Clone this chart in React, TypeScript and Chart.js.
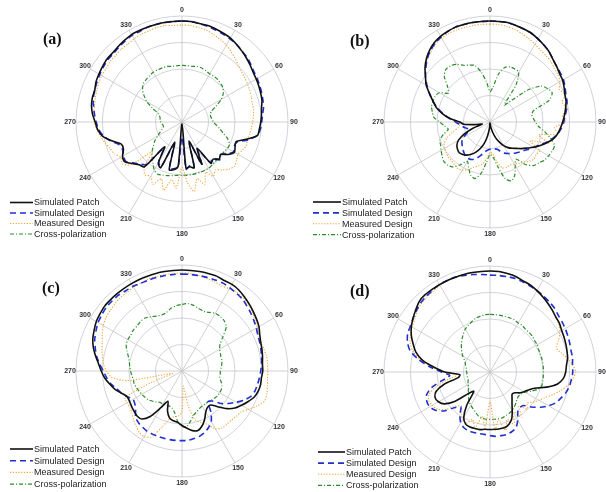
import { useEffect, useRef } from "react";
import { Chart, registerables } from "chart.js";

Chart.register(...registerables);

// Angles (degrees, clockwise from top), every 5 degrees
const ANGLES = [
  0, 5, 10, 15, 20, 25, 30, 35, 40, 45, 50, 55, 60, 65, 70, 75, 80, 85,
  90, 95, 100, 105, 110, 115, 120, 125, 130, 135, 140, 145, 150, 155, 160, 165, 170, 175,
  180, 185, 190, 195, 200, 205, 210, 215, 220, 225, 230, 235, 240, 245, 250, 255, 260, 265,
  270, 275, 280, 285, 290, 295, 300, 305, 310, 315, 320, 325, 330, 335, 340, 345, 350, 355,
];

const SERIES_NAMES = ["Simulated Patch", "Simulated Design", "Measured Design", "Cross-polarization"];

// Normalized radiation pattern values (relative radius)
// ---------- (a) ----------
const PATCH_A = [
  1.00, 1.00, 0.99, 0.99, 0.98, 0.97, 0.96, 0.94, 0.92, 0.90, 0.88, 0.86, 0.85, 0.84, 0.83, 0.82, 0.80, 0.79,
  0.78, 0.77, 0.76, 0.66, 0.57, 0.58, 0.60, 0.56, 0.50, 0.52, 0.48, 0.50, 0.30, 0.46, 0.20, 0.47, 0.45, 0.46,
  0.02, 0.44, 0.48, 0.49, 0.21, 0.50, 0.47, 0.30, 0.58, 0.60, 0.64, 0.69, 0.68, 0.64, 0.64, 0.72, 0.80, 0.84,
  0.86, 0.89, 0.91, 0.92, 0.92, 0.94, 0.95, 0.96, 0.97, 0.97, 0.98, 0.99, 1.00, 1.00, 1.00, 1.00, 1.00, 1.00,
];
const DESIGN_A = [
  1.00, 1.00, 0.99, 0.98, 0.97, 0.96, 0.95, 0.94, 0.92, 0.91, 0.89, 0.87, 0.86, 0.85, 0.84, 0.83, 0.82, 0.80,
  0.79, 0.78, 0.76, 0.68, 0.58, 0.57, 0.59, 0.55, 0.50, 0.53, 0.47, 0.49, 0.32, 0.47, 0.22, 0.46, 0.44, 0.47,
  0.15, 0.45, 0.47, 0.48, 0.24, 0.49, 0.46, 0.32, 0.55, 0.59, 0.63, 0.68, 0.67, 0.65, 0.66, 0.73, 0.79, 0.83,
  0.85, 0.87, 0.89, 0.91, 0.92, 0.93, 0.94, 0.95, 0.96, 0.96, 0.97, 0.98, 0.99, 0.99, 1.00, 1.00, 1.00, 1.00,
];
const MEASURED_A = [
  0.96, 0.96, 0.95, 0.94, 0.92, 0.90, 0.88, 0.85, 0.82, 0.79, 0.77, 0.76, 0.75, 0.74, 0.73, 0.72, 0.72, 0.71,
  0.70, 0.69, 0.68, 0.67, 0.68, 0.66, 0.64, 0.66, 0.68, 0.66, 0.62, 0.58, 0.62, 0.55, 0.66, 0.58, 0.70, 0.60,
  0.45, 0.66, 0.58, 0.70, 0.60, 0.68, 0.62, 0.64, 0.58, 0.42, 0.66, 0.72, 0.70, 0.74, 0.76, 0.79, 0.82, 0.85,
  0.87, 0.88, 0.88, 0.89, 0.90, 0.91, 0.92, 0.92, 0.93, 0.93, 0.94, 0.94, 0.95, 0.96, 0.96, 0.97, 0.97, 0.96,
];
const CROSS_A = [
  0.56, 0.56, 0.56, 0.57, 0.57, 0.56, 0.55, 0.55, 0.55, 0.54, 0.53, 0.50, 0.45, 0.37, 0.31, 0.29, 0.29, 0.30,
  0.31, 0.34, 0.38, 0.42, 0.48, 0.52, 0.52, 0.51, 0.51, 0.51, 0.51, 0.52, 0.53, 0.53, 0.53, 0.53, 0.53, 0.53,
  0.53, 0.53, 0.54, 0.55, 0.56, 0.57, 0.55, 0.50, 0.46, 0.42, 0.37, 0.33, 0.28, 0.24, 0.21, 0.19, 0.19, 0.20,
  0.21, 0.22, 0.22, 0.23, 0.25, 0.32, 0.40, 0.46, 0.51, 0.54, 0.55, 0.56, 0.57, 0.57, 0.57, 0.57, 0.56, 0.56,
];

// ---------- (b) ----------
const PATCH_B = [
  1.00, 1.00, 1.00, 0.99, 0.98, 0.97, 0.95, 0.93, 0.91, 0.88, 0.86, 0.84, 0.83, 0.81, 0.79, 0.78, 0.76, 0.74,
  0.72, 0.70, 0.68, 0.65, 0.60, 0.55, 0.50, 0.45, 0.41, 0.37, 0.34, 0.31, 0.27, 0.22, 0.17, 0.11, 0.06, 0.02,
  0.01, 0.06, 0.14, 0.22, 0.28, 0.33, 0.37, 0.40, 0.42, 0.43, 0.42, 0.40, 0.36, 0.28, 0.18, 0.08, 0.15, 0.26,
  0.30, 0.40, 0.48, 0.55, 0.60, 0.66, 0.73, 0.78, 0.84, 0.89, 0.93, 0.96, 0.98, 0.99, 1.00, 1.00, 1.00, 1.00,
];
const DESIGN_B = [
  1.00, 1.00, 1.00, 0.99, 0.98, 0.97, 0.95, 0.93, 0.91, 0.88, 0.86, 0.85, 0.84, 0.82, 0.80, 0.79, 0.77, 0.75,
  0.73, 0.71, 0.68, 0.64, 0.59, 0.54, 0.50, 0.47, 0.44, 0.42, 0.40, 0.38, 0.36, 0.34, 0.31, 0.28, 0.27, 0.27,
  0.27, 0.28, 0.30, 0.34, 0.38, 0.41, 0.42, 0.42, 0.40, 0.38, 0.36, 0.34, 0.30, 0.25, 0.22, 0.24, 0.27, 0.30,
  0.34, 0.40, 0.47, 0.54, 0.60, 0.66, 0.72, 0.78, 0.83, 0.88, 0.92, 0.95, 0.97, 0.99, 1.00, 1.00, 1.00, 1.00,
];
const MEASURED_B = [
  0.97, 0.97, 0.96, 0.95, 0.93, 0.91, 0.89, 0.87, 0.86, 0.85, 0.83, 0.82, 0.80, 0.76, 0.79, 0.74, 0.78, 0.72,
  0.75, 0.64, 0.68, 0.50, 0.62, 0.44, 0.57, 0.56, 0.57, 0.55, 0.52, 0.50, 0.48, 0.47, 0.48, 0.47, 0.40, 0.32,
  0.30, 0.36, 0.42, 0.45, 0.48, 0.52, 0.55, 0.56, 0.55, 0.54, 0.54, 0.53, 0.52, 0.50, 0.45, 0.38, 0.32, 0.30,
  0.32, 0.40, 0.47, 0.54, 0.60, 0.66, 0.72, 0.78, 0.83, 0.88, 0.91, 0.94, 0.96, 0.97, 0.97, 0.97, 0.97, 0.97,
];
const CROSS_B = [
  0.30, 0.35, 0.48, 0.56, 0.58, 0.58, 0.57, 0.45, 0.22, 0.30, 0.50, 0.62, 0.66, 0.68, 0.62, 0.45, 0.42, 0.43,
  0.45, 0.48, 0.55, 0.62, 0.68, 0.68, 0.67, 0.66, 0.63, 0.61, 0.55, 0.45, 0.50, 0.58, 0.62, 0.58, 0.45, 0.35,
  0.32, 0.40, 0.52, 0.58, 0.56, 0.50, 0.45, 0.52, 0.58, 0.60, 0.60, 0.58, 0.56, 0.54, 0.53, 0.48, 0.42, 0.45,
  0.50, 0.56, 0.58, 0.60, 0.60, 0.60, 0.58, 0.50, 0.55, 0.64, 0.68, 0.68, 0.66, 0.62, 0.60, 0.58, 0.50, 0.40,
];

// ---------- (c) ----------
const PATCH_C = [
  1.00, 1.00, 1.00, 1.00, 1.00, 0.99, 0.99, 0.98, 0.96, 0.94, 0.92, 0.90, 0.88, 0.85, 0.83, 0.82, 0.81, 0.80,
  0.80, 0.79, 0.79, 0.78, 0.76, 0.72, 0.68, 0.64, 0.58, 0.50, 0.44, 0.44, 0.47, 0.53, 0.58, 0.61, 0.60, 0.57,
  0.54, 0.51, 0.50, 0.48, 0.42, 0.33, 0.42, 0.55, 0.62, 0.63, 0.62, 0.61, 0.60, 0.60, 0.64, 0.69, 0.73, 0.77,
  0.80, 0.83, 0.87, 0.91, 0.94, 0.96, 0.98, 0.99, 1.00, 1.00, 1.00, 1.00, 1.00, 1.00, 1.00, 1.00, 1.00, 1.00,
];
const DESIGN_C = [
  0.96, 0.96, 0.96, 0.96, 0.96, 0.96, 0.95, 0.94, 0.93, 0.91, 0.89, 0.87, 0.85, 0.83, 0.82, 0.81, 0.80, 0.79,
  0.78, 0.77, 0.76, 0.75, 0.73, 0.68, 0.62, 0.56, 0.50, 0.42, 0.40, 0.50, 0.58, 0.62, 0.65, 0.67, 0.68, 0.69,
  0.69, 0.69, 0.69, 0.69, 0.69, 0.69, 0.69, 0.68, 0.67, 0.65, 0.60, 0.57, 0.56, 0.60, 0.64, 0.67, 0.72, 0.75,
  0.78, 0.82, 0.86, 0.89, 0.92, 0.94, 0.96, 0.97, 0.98, 0.98, 0.98, 0.97, 0.97, 0.96, 0.96, 0.96, 0.96, 0.96,
];
const MEASURED_C = [
  0.97, 0.97, 0.96, 0.95, 0.94, 0.93, 0.94, 0.95, 0.94, 0.93, 0.91, 0.88, 0.86, 0.84, 0.83, 0.84, 0.85, 0.85,
  0.85, 0.85, 0.86, 0.87, 0.87, 0.82, 0.76, 0.71, 0.70, 0.69, 0.69, 0.69, 0.66, 0.58, 0.54, 0.50, 0.35, 0.15,
  0.40, 0.45, 0.46, 0.50, 0.60, 0.72, 0.75, 0.74, 0.71, 0.68, 0.65, 0.63, 0.63, 0.62, 0.30, 0.10, 0.55, 0.70,
  0.75, 0.78, 0.80, 0.82, 0.84, 0.87, 0.90, 0.92, 0.93, 0.94, 0.95, 0.95, 0.96, 0.96, 0.97, 0.97, 0.97, 0.97,
];
const CROSS_C = [
  0.66, 0.67, 0.66, 0.64, 0.63, 0.64, 0.66, 0.66, 0.65, 0.62, 0.53, 0.46, 0.43, 0.42, 0.41, 0.41, 0.40, 0.39,
  0.38, 0.38, 0.38, 0.40, 0.42, 0.43, 0.43, 0.43, 0.42, 0.41, 0.40, 0.40, 0.40, 0.41, 0.43, 0.45, 0.50, 0.55,
  0.55, 0.50, 0.42, 0.38, 0.37, 0.37, 0.38, 0.38, 0.40, 0.42, 0.44, 0.45, 0.46, 0.47, 0.48, 0.49, 0.49, 0.50,
  0.51, 0.52, 0.53, 0.55, 0.58, 0.61, 0.62, 0.62, 0.63, 0.63, 0.64, 0.64, 0.62, 0.60, 0.59, 0.60, 0.63, 0.65,
];

// ---------- (d) ----------
const PATCH_D = [
  1.00, 1.00, 0.99, 0.98, 0.96, 0.95, 0.93, 0.91, 0.89, 0.87, 0.85, 0.84, 0.82, 0.81, 0.80, 0.79, 0.78, 0.76,
  0.75, 0.73, 0.68, 0.58, 0.47, 0.42, 0.39, 0.36, 0.32, 0.31, 0.34, 0.38, 0.44, 0.51, 0.55, 0.57, 0.57, 0.57,
  0.57, 0.57, 0.58, 0.58, 0.58, 0.57, 0.52, 0.40, 0.25, 0.30, 0.45, 0.55, 0.59, 0.60, 0.57, 0.47, 0.32, 0.30,
  0.45, 0.56, 0.68, 0.76, 0.81, 0.86, 0.90, 0.93, 0.96, 0.99, 1.00, 1.00, 1.00, 1.00, 1.00, 1.00, 1.00, 1.00,
];
const DESIGN_D = [
  0.96, 0.96, 0.96, 0.96, 0.95, 0.94, 0.93, 0.92, 0.91, 0.90, 0.88, 0.87, 0.86, 0.85, 0.84, 0.83, 0.83, 0.82,
  0.82, 0.81, 0.80, 0.78, 0.75, 0.72, 0.67, 0.61, 0.54, 0.47, 0.46, 0.48, 0.55, 0.61, 0.63, 0.64, 0.64, 0.64,
  0.63, 0.62, 0.62, 0.62, 0.62, 0.61, 0.58, 0.52, 0.45, 0.50, 0.60, 0.66, 0.69, 0.69, 0.67, 0.60, 0.48, 0.40,
  0.48, 0.60, 0.72, 0.82, 0.87, 0.90, 0.91, 0.93, 0.95, 0.97, 0.98, 0.99, 1.00, 1.00, 1.00, 0.99, 0.98, 0.97,
];
const MEASURED_D = [
  1.00, 1.00, 0.99, 0.98, 0.96, 0.95, 0.93, 0.91, 0.89, 0.87, 0.85, 0.83, 0.80, 0.75, 0.70, 0.73, 0.78, 0.82,
  0.85, 0.82, 0.78, 0.72, 0.66, 0.60, 0.56, 0.52, 0.48, 0.52, 0.44, 0.55, 0.45, 0.58, 0.50, 0.60, 0.48, 0.58,
  0.30, 0.56, 0.45, 0.58, 0.50, 0.56, 0.54, 0.50, 0.44, 0.48, 0.58, 0.64, 0.66, 0.67, 0.64, 0.55, 0.42, 0.33,
  0.45, 0.58, 0.70, 0.79, 0.84, 0.87, 0.89, 0.91, 0.94, 0.96, 0.97, 0.98, 0.99, 1.00, 1.00, 1.00, 1.00, 1.00,
];
const CROSS_D = [
  0.57, 0.57, 0.57, 0.57, 0.57, 0.57, 0.56, 0.56, 0.55, 0.55, 0.55, 0.54, 0.54, 0.53, 0.53, 0.53, 0.53, 0.53,
  0.53, 0.53, 0.53, 0.53, 0.50, 0.45, 0.40, 0.38, 0.37, 0.38, 0.40, 0.42, 0.44, 0.45, 0.46, 0.47, 0.47, 0.47,
  0.47, 0.47, 0.46, 0.45, 0.42, 0.40, 0.38, 0.36, 0.33, 0.30, 0.28, 0.26, 0.25, 0.24, 0.23, 0.23, 0.23, 0.23,
  0.23, 0.24, 0.24, 0.25, 0.26, 0.28, 0.31, 0.34, 0.37, 0.40, 0.43, 0.46, 0.49, 0.51, 0.53, 0.55, 0.56, 0.57,
];

// Radial grid rings (outer ring slightly beyond the main-lobe maximum)
const RING_VALUES = [0, 0.2625, 0.525, 0.7875, 1.05];
const R_MAX = 1.05;

const LINE_STYLES = [
  { color: "#111111", width: 1.6, dash: [] as number[] },
  { color: "#1f2fd0", width: 1.6, dash: [6, 4] },
  { color: "#f2a33a", width: 1.1, dash: [1.2, 1.6] },
  { color: "#2a8c2a", width: 1.2, dash: [4, 2, 1, 2] },
];

const PANELS = [
  {
    letter: "(a)", left: 0, top: 0, series: [PATCH_A, DESIGN_A, MEASURED_A, CROSS_A],
    padding: { left: 76, top: 16, right: 15, bottom: 18 },
    letterX: 43, letterY: 40, legendX: 10, legendY: 202.5, legendLen: 23, legendGap: 10.5,
  },
  {
    letter: "(b)", left: 303, top: 0, series: [PATCH_B, DESIGN_B, MEASURED_B, CROSS_B],
    padding: { left: 81, top: 16, right: 10, bottom: 18 },
    letterX: 47, letterY: 42, legendX: 10, legendY: 202, legendLen: 28, legendGap: 10.9,
  },
  {
    letter: "(c)", left: 0, top: 246, series: [PATCH_C, DESIGN_C, MEASURED_C, CROSS_C],
    padding: { left: 76, top: 19, right: 15, bottom: 15 },
    letterX: 42, letterY: 42.5, legendX: 10, legendY: 203, legendLen: 23, legendGap: 11.7,
  },
  {
    letter: "(d)", left: 303, top: 246, series: [PATCH_D, DESIGN_D, MEASURED_D, CROSS_D],
    padding: { left: 81, top: 20, right: 10, bottom: 14 },
    letterX: 47, letterY: 46, legendX: 15, legendY: 206, legendLen: 27, legendGap: 11.1,
  },
];

const decorPlugin = {
  id: "panelDecor",
  afterDraw(chart: any, _args: any, opts: any) {
    const ctx = chart.ctx as CanvasRenderingContext2D;
    const r = chart.scales.r;
    ctx.save();
    // angle labels
    ctx.font = 'bold 7px "Liberation Sans", Arial, sans-serif';
    ctx.fillStyle = "#333";
    ctx.textAlign = "center";
    ctx.textBaseline = "middle";
    (chart.data.labels as string[]).forEach((lab, i) => {
      if (Number(lab) % 30 !== 0) return;
      const p = r.getPointPosition(i, r.drawingArea + 6);
      ctx.fillText(String(lab), p.x, p.y);
    });
    // panel letter
    ctx.font = 'bold 16px "Liberation Serif", "Times New Roman", serif';
    ctx.fillStyle = "#111";
    ctx.textAlign = "left";
    ctx.fillText(opts.letter, opts.letterX, opts.letterY);
    // legend
    ctx.font = '9px "Liberation Sans", Arial, sans-serif';
    chart.data.datasets.forEach((ds: any, i: number) => {
      const y = opts.legendY + i * opts.legendGap;
      ctx.beginPath();
      ctx.setLineDash(ds.borderDash || []);
      ctx.strokeStyle = ds.borderColor;
      ctx.lineWidth = ds.borderWidth;
      ctx.moveTo(opts.legendX, y);
      ctx.lineTo(opts.legendX + opts.legendLen, y);
      ctx.stroke();
      ctx.setLineDash([]);
      ctx.fillStyle = "#222";
      ctx.fillText(ds.label, opts.legendX + opts.legendLen + 1, y + 0.5);
    });
    ctx.restore();
  },
};

function PolarPanel({ panel }: { panel: (typeof PANELS)[number] }) {
  const ref = useRef<HTMLCanvasElement | null>(null);
  useEffect(() => {
    if (!ref.current) return;
    const chart = new Chart(ref.current, {
      type: "radar",
      data: {
        labels: ANGLES.map(String),
        datasets: panel.series.map((values, i) => ({
          label: SERIES_NAMES[i],
          data: values,
          borderColor: LINE_STYLES[i].color,
          borderWidth: LINE_STYLES[i].width,
          borderDash: LINE_STYLES[i].dash,
          backgroundColor: "transparent",
          fill: false,
          pointRadius: 0,
          pointHitRadius: 0,
          tension: 0.25,
        })),
      },
      options: {
        animation: false,
        responsive: false,
        devicePixelRatio: 1,
        events: [],
        layout: { padding: panel.padding },
        plugins: {
          legend: { display: false },
          tooltip: { enabled: false },
          panelDecor: {
            letter: panel.letter,
            letterX: panel.letterX,
            letterY: panel.letterY,
            legendX: panel.legendX,
            legendY: panel.legendY,
            legendLen: panel.legendLen,
            legendGap: panel.legendGap,
          },
        } as any,
        scales: {
          r: {
            min: 0,
            max: R_MAX,
            startAngle: 0,
            afterBuildTicks: (scale: any) => {
              scale.ticks = RING_VALUES.map((v) => ({ value: v }));
            },
            ticks: { display: false },
            pointLabels: { display: false },
            grid: { circular: true, color: "#c5c8d2", lineWidth: 0.8 },
            angleLines: {
              color: (ctx: any) => (ctx.index % 6 === 0 ? "#c4c4c4" : "rgba(0,0,0,0)"),
              lineWidth: (ctx: any) => (ctx.index % 6 === 0 ? 0.8 : 0),
            },
          },
        },
      },
      plugins: [decorPlugin],
    });
    return () => chart.destroy();
  }, [panel]);
  return (
    <canvas
      ref={ref}
      width={303}
      height={246}
      style={{ position: "absolute", left: panel.left, top: panel.top, width: 303, height: 246 }}
    />
  );
}

export default function App() {
  return (
    <div style={{ position: "fixed", left: 0, top: 0, width: 606, height: 492, background: "#fff" }}>
      {PANELS.map((p) => (
        <PolarPanel key={p.letter} panel={p} />
      ))}
    </div>
  );
}
